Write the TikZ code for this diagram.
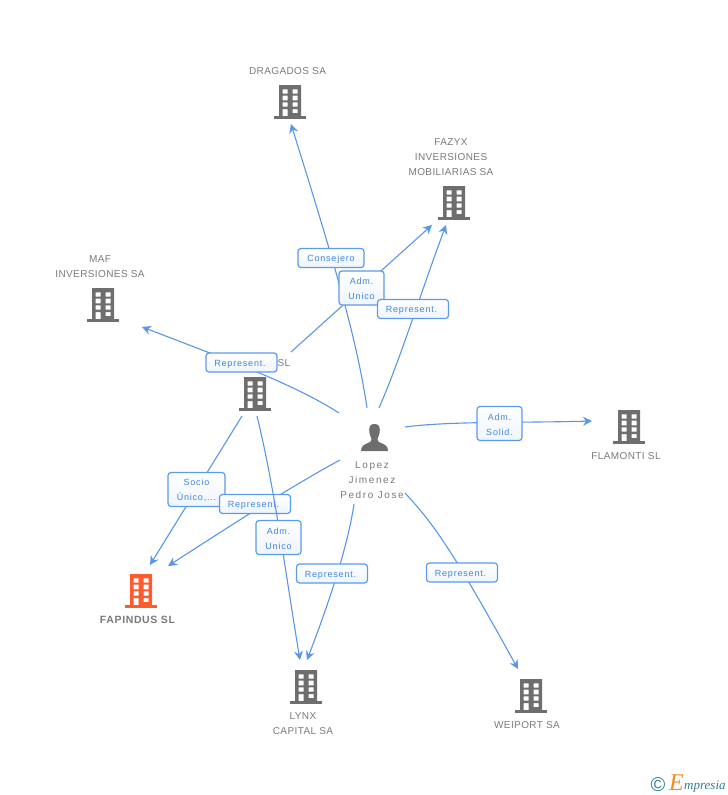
\documentclass[tikz,border=0pt]{standalone}
\usepackage{fontspec}
\usetikzlibrary{arrows.meta}
\setmainfont{Liberation Sans}
\newfontfamily\lblfont[LetterSpace=9]{Liberation Sans}
\newfontfamily\namefont[LetterSpace=4]{Liberation Sans}
\newfontfamily\personfont[LetterSpace=16]{Liberation Sans}
\newfontfamily\boldnamefont[LetterSpace=6]{Liberation Sans}
\newfontfamily\logofont{Liberation Serif}
\definecolor{linkblue}{HTML}{5A96E6}
\definecolor{boxblue}{HTML}{5C9AEA}
\definecolor{txtblue}{HTML}{3F86E0}
\definecolor{iconGrey}{HTML}{6E6E6E}
\definecolor{nameGrey}{HTML}{7A7A7A}
\definecolor{hiOrange}{HTML}{FF5C2E}
\definecolor{logoTeal}{HTML}{2F7F96}
\definecolor{logoOrange}{HTML}{F08A1D}
\newcommand{\dn}{\rule{0pt}{9pt}}
\newcommand{\rp}{\dn Represent.\kern3pt}
\tikzset{
  linkline/.style={draw=linkblue,line width=1.1pt},
  arrowlink/.style={linkline,-{Stealth[length=9pt,width=9pt,inset=3pt]}},
  lbl/.style={draw=boxblue,line width=1.2pt,rounded corners=3pt,top color=white,bottom color=white!90!boxblue,
    text=txtblue,inner sep=0pt,align=center,font=\lblfont\fontsize{9}{15}\selectfont},
  lblone/.style={lbl,minimum width=71pt,minimum height=19pt},
  lbltwo/.style={lbl,minimum width=45pt,minimum height=34pt},
  nametxt/.style={text=nameGrey,inner sep=0pt,align=center,font=\namefont\fontsize{10}{15}\selectfont},
  iconbox/.style={inner sep=0pt,minimum width=32pt,minimum height=34pt}
}
\newcommand{\bldg}[4]{%
  \node[iconbox] (#1) at (#2,#3+17) {};
  \begin{scope}[shift={(#2,#3)}]
    \fill[#4,even odd rule]
      (-11,0) rectangle (11,31)
      (-7.3,4.3) rectangle (-2.5,8.5) (2.5,4.3) rectangle (7.5,8.5)
      (-7.3,10.7) rectangle (-2.5,15.3) (2.5,10.7) rectangle (7.5,15.3)
      (-7.3,17.3) rectangle (-2.5,21.7) (2.5,17.3) rectangle (7.5,21.7)
      (-7.3,24) rectangle (-2.5,31) (2.5,24) rectangle (7.5,28.2);
    \fill[#4] (-16,31) rectangle (16,33.7);
  \end{scope}}
\begin{document}
\begin{tikzpicture}[x=1pt,y=-1pt]
\useasboundingbox (0,0) rectangle (728,795);
% buildings
\bldg{dragados}{290}{85}{iconGrey}
\bldg{fazyx}{454}{186}{iconGrey}
\bldg{maf}{103}{288}{iconGrey}
\bldg{centre}{255}{377}{iconGrey}
\bldg{flamonti}{629}{410}{iconGrey}
\bldg{fapindus}{141}{574}{hiOrange}
\bldg{lynx}{306}{670}{iconGrey}
\bldg{weiport}{531}{679}{iconGrey}
% person
\node[inner sep=0pt,minimum width=28pt,minimum height=28pt] (lopez) at (374.5,437.5) {};
\fill[iconGrey] (369.2,430) .. controls (369,426) and (371,424) .. (374.5,424)
  .. controls (378,424) and (380,426) .. (379.8,430)
  .. controls (379.6,434) and (378.5,437) .. (377.5,439)
  .. controls (377.5,441) and (378,442) .. (381,443)
  .. controls (385,444.5) and (388,446) .. (388,451) -- (361,451)
  .. controls (361,446) and (364,444.5) .. (368,443)
  .. controls (371,442) and (371.5,441) .. (371.5,439)
  .. controls (370.5,437) and (369.4,434) .. (369.2,430) -- cycle;
% names
\node[nametxt] (ndragados) at (287.5,71) {DRAGADOS SA};
\node[nametxt] (nfazyx) at (451,157) {FAZYX\\INVERSIONES\\MOBILIARIAS SA};
\node[nametxt] (nmaf) at (100,266.5) {MAF\\INVERSIONES SA};
\node[nametxt] (ncentre) at (284,363) {SL};
\node[nametxt] (nflamonti) at (626,456) {FLAMONTI SL};
\node[nametxt,font=\boldnamefont\fontsize{10.5}{15}\selectfont\bfseries] (nfapindus) at (137.5,619.5) {FAPINDUS SL};
\node[nametxt] (nlynx) at (303,723.5) {LYNX\\CAPITAL SA};
\node[nametxt] (nweiport) at (527,725) {WEIPORT SA};
\node[nametxt,font=\personfont\fontsize{10}{15}\selectfont] (nlopez) at (372,480.5) {Lopez\\Jimenez\\Pedro Jose};
% connector ends
\coordinate (a1) at (367,408); \coordinate (b1) at (291,124);
\coordinate (a2) at (379,408); \coordinate (b2) at (446,225);
\coordinate (a3) at (291,352); \coordinate (b3) at (432,225);
\coordinate (a4) at (339,413); \coordinate (b4) at (142,327);
\coordinate (a5) at (405,427); \coordinate (b5) at (592,421);
\coordinate (a6) at (405,493); \coordinate (b6) at (518,669);
\coordinate (a7) at (354,504); \coordinate (b7) at (307,660);
\coordinate (a8) at (340,460); \coordinate (b8) at (168,566);
\coordinate (a9) at (242,416); \coordinate (b9) at (150,565);
\coordinate (a10) at (257,416); \coordinate (b10) at (300,660);
% connectors
\draw[arrowlink] (a1) .. controls (357,340) and (335,265) .. (b1);
\draw[arrowlink] (a2) .. controls (400,360) and (420,295) .. (b2);
\draw[arrowlink] (a3) -- (b3);
\draw[arrowlink] (a4) .. controls (300,388) and (250,368) .. (b4);
\draw[arrowlink] (a5) .. controls (450,421) and (520,423) .. (b5);
\draw[arrowlink] (a6) .. controls (435,525) and (455,555) .. (b6);
\draw[arrowlink] (a7) .. controls (348,545) and (330,600) .. (b7);
\draw[arrowlink] (a8) .. controls (290,487) and (230,526) .. (b8);
\draw[arrowlink] (a9) -- (b9);
% labels
\node[lblone,minimum width=66pt] (l1) at (331,258) {\dn Consejero};
\node[lbltwo] (l3) at (361.5,288) {\dn Adm.\\Unico};
\node[lblone] (l2) at (413,309) {\rp};
\node[lblone] (l4) at (241.5,362.5) {\rp};
\node[lbltwo] (l5) at (499.5,423.5) {\dn Adm.\\Solid.};
\node[lbltwo,minimum width=57pt] (l9) at (196.5,489.5) {\dn Socio\\Único,...};
\node[lblone] (l8) at (255,504) {\rp};
\draw[arrowlink] (a10) .. controls (275,490) and (285,570) .. (b10);
\node[lbltwo] (l10) at (278.5,537.5) {\dn Adm.\\Unico};
\node[lblone] (l7) at (332,573.5) {\rp};
\node[lblone] (l6) at (462,572.5) {\rp};
% logo
\node[inner sep=0pt,text=logoTeal,font=\fontsize{20}{20}\selectfont] (copy) at (658,784.5) {©};
\node[inner sep=0pt,anchor=base west,text=logoOrange,font=\logofont\itshape\fontsize{24}{24}\selectfont] (logoe) at (669,790) {E};
\node[inner sep=0pt,anchor=base west,text=logoTeal,font=\logofont\itshape\fontsize{13}{13}\selectfont] (logot) at (684,789) {mpresia};
\end{tikzpicture}
\end{document}
